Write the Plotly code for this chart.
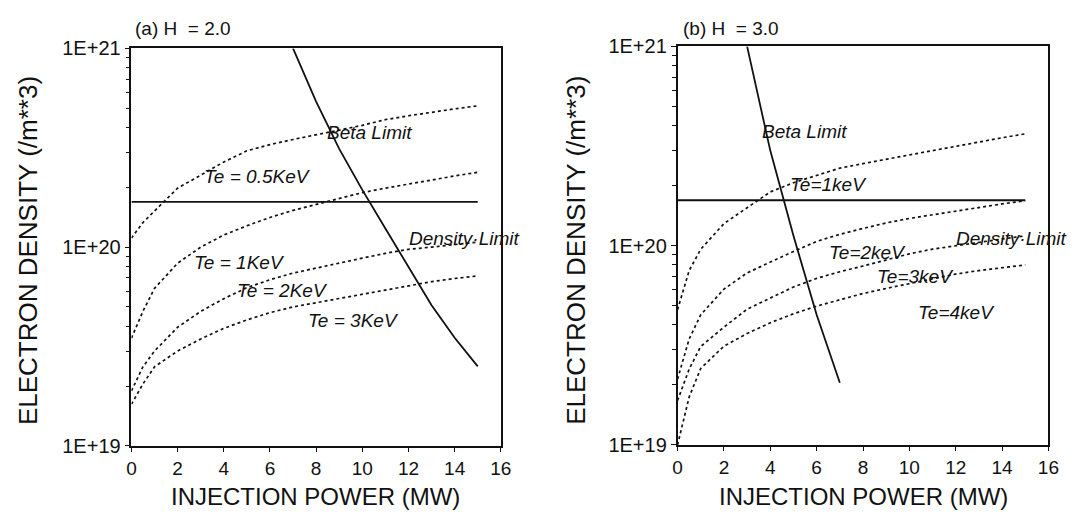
import plotly.graph_objects as go
import math

# ---------------- data ----------------
power = [0, 0.5, 1, 2, 3, 4, 5, 6, 7, 8, 9, 10, 11, 12, 13, 14, 15]

# (a) H = 2.0
a_te05 = [1.11e20, 1.33e20, 1.52e20, 1.98e20, 2.30e20, 2.68e20, 3.05e20, 3.28e20, 3.48e20,
          3.66e20, 3.88e20, 4.10e20, 4.38e20, 4.58e20, 4.78e20, 4.96e20, 5.14e20]
a_te1 = [3.48e19, 4.76e19, 6.2e19, 8.3e19, 1.0e20, 1.15e20, 1.28e20, 1.41e20, 1.53e20,
         1.64e20, 1.75e20, 1.88e20, 1.98e20, 2.08e20, 2.18e20, 2.28e20, 2.38e20]
a_te2 = [1.89e19, 2.5e19, 3.0e19, 3.95e19, 4.75e19, 5.5e19, 6.25e19, 6.85e19, 7.4e19,
         7.85e19, 8.35e19, 8.8e19, 9.3e19, 9.75e19, 1.0e20, 1.03e20, 1.06e20]
a_te3 = [1.62e19, 2.05e19, 2.5e19, 3.0e19, 3.45e19, 3.9e19, 4.3e19, 4.68e19, 5.0e19,
         5.25e19, 5.5e19, 5.8e19, 6.1e19, 6.4e19, 6.7e19, 6.95e19, 7.16e19]
a_beta_x = [7, 8, 9, 10, 11, 12, 13, 14, 15]
a_beta = [1.0e21, 5.4e20, 3.12e20, 1.94e20, 1.24e20, 7.9e19, 5.1e19, 3.5e19, 2.51e19]

# (b) H = 3.0
b_te1 = [4.77e19, 7.5e19, 9.6e19, 1.29e20, 1.55e20, 1.86e20, 2.07e20, 2.26e20, 2.45e20,
         2.58e20, 2.72e20, 2.85e20, 3.0e20, 3.15e20, 3.32e20, 3.48e20, 3.64e20]
b_te2 = [2.14e19, 3.4e19, 4.5e19, 6.05e19, 7.3e19, 8.3e19, 9.35e19, 1.05e20, 1.14e20,
         1.22e20, 1.3e20, 1.37e20, 1.43e20, 1.5e20, 1.56e20, 1.62e20, 1.68e20]
b_te3 = [1.67e19, 2.4e19, 3.12e19, 3.9e19, 4.8e19, 5.45e19, 6.2e19, 6.85e19, 7.4e19,
         7.9e19, 8.5e19, 9.1e19, 9.6e19, 1.0e20, 1.04e20, 1.08e20, 1.12e20]
b_te4 = [1.0e19, 1.74e19, 2.42e19, 3.13e19, 3.62e19, 4.1e19, 4.55e19, 4.97e19, 5.35e19,
         5.75e19, 6.1e19, 6.45e19, 6.85e19, 7.2e19, 7.5e19, 7.75e19, 8.0e19]
b_beta_x = [3, 4, 5, 6, 7]
b_beta = [1.0e21, 3.0e20, 1.12e20, 4.5e19, 2.05e19]

density_x = [0, 15]
density_limit = [1.69e20, 1.69e20]

x_ticks = [0, 2, 4, 6, 8, 10, 12, 14, 16]
y_ticks = [1e19, 1e20, 1e21]
y_tick_text = ["1E+19", "1E+20", "1E+21"]
y_minor = [m * 1e19 for m in range(2, 10)] + [m * 1e20 for m in range(2, 10)]

# labels: (text, x [MW], density)
a_labels = [("Beta Limit", 8.39, 3.77e20), ("Te = 0.5KeV", 3.06, 2.26e20),
            ("Density·Limit", 11.93, 1.11e20), ("Te = 1KeV", 2.63, 8.4e19),
            ("Te = 2KeV", 4.47, 6.04e19), ("Te = 3KeV", 7.54, 4.28e19)]
b_labels = [("Beta Limit", 3.55, 3.73e20), ("Te=1keV", 4.77, 2.03e20),
            ("Density·Limit", 11.91, 1.09e20), ("Te=2keV", 6.45, 9.25e19),
            ("Te=3keV", 8.51, 7.0e19), ("Te=4keV", 10.3, 4.6e19)]

# ---------------- figure ----------------
FONT = "Arial, 'Liberation Sans', Helvetica, sans-serif"
INK = "#111111"
fig = go.Figure()

def dotted(x, y, xa, ya):
    fig.add_trace(go.Scatter(x=x, y=y, mode="lines", xaxis=xa, yaxis=ya,
                             line=dict(color=INK, width=1.7, dash="dot"),
                             showlegend=False, hoverinfo="skip"))

def solid(x, y, xa, ya):
    fig.add_trace(go.Scatter(x=x, y=y, mode="lines", xaxis=xa, yaxis=ya,
                             line=dict(color=INK, width=1.8),
                             showlegend=False, hoverinfo="skip"))

for s in (a_te05, a_te1, a_te2, a_te3):
    dotted(power, s, "x", "y")
solid(a_beta_x, a_beta, "x", "y")
solid(density_x, density_limit, "x", "y")

for s in (b_te1, b_te2, b_te3, b_te4):
    dotted(power, s, "x2", "y2")
solid(b_beta_x, b_beta, "x2", "y2")
solid(density_x, density_limit, "x2", "y2")

xax = dict(range=[0, 16], tickvals=x_ticks, ticks="outside", ticklen=4, tickwidth=1.3,
           tickcolor=INK, showline=True, linecolor=INK, linewidth=1.6, mirror=True,
           showgrid=False, zeroline=False, ticklabelstandoff=1,
           tickfont=dict(family=FONT, size=19, color=INK))
yax = dict(type="log", range=[19, 21], tickvals=y_ticks, ticktext=y_tick_text,
           ticks="outside", ticklen=5, tickwidth=1.3, tickcolor=INK,
           minor=dict(tickmode="array", tickvals=y_minor, ticks="outside", ticklen=4,
                      tickwidth=1.2, tickcolor=INK, showgrid=False),
           showline=True, linecolor=INK, linewidth=1.6, mirror=True,
           showgrid=False, zeroline=False,
           tickfont=dict(family=FONT, size=20, color=INK))

fig.update_layout(
    width=1075, height=521,
    margin=dict(l=0, r=0, t=0, b=0),
    paper_bgcolor="white", plot_bgcolor="white",
    xaxis=dict(xax, domain=[0.1194, 0.4682], anchor="y"),
    yaxis=dict(yax, domain=[0.1286, 0.9251], anchor="x"),
    xaxis2=dict(xax, domain=[0.6351, 0.9853], anchor="y2"),
    yaxis2=dict(yax, domain=[0.1305, 0.929], anchor="x2"),
)

ann = []
for labels, xr, yr in ((a_labels, "x", "y"), (b_labels, "x2", "y2")):
    for t, xv, yv in labels:
        ann.append(dict(text="<i>" + t + "</i>", x=xv, y=math.log10(yv), xref=xr, yref=yr,
                        xanchor="left", yanchor="middle", showarrow=False,
                        font=dict(family=FONT, size=19, color=INK)))

ann += [
    dict(text="(a) H  = 2.0", x=130 / 1075, y=1 - 18 / 521, xref="paper", yref="paper",
         xanchor="left", yanchor="middle", showarrow=False,
         font=dict(family=FONT, size=19, color=INK)),
    dict(text="(b) H  = 3.0", x=686 / 1075, y=1 - 18 / 521, xref="paper", yref="paper",
         xanchor="left", yanchor="middle", showarrow=False,
         font=dict(family=FONT, size=19, color=INK)),
]
for cx in (24, 580):
    ann.append(dict(text="ELECTRON DENSITY (/m**3)", x=cx / 1075, y=1 - 250 / 521,
                    xref="paper", yref="paper", xanchor="center", yanchor="middle",
                    textangle=-90, showarrow=False,
                    font=dict(family=FONT, size=26, color=INK)))
for cx in (315, 871):
    ann.append(dict(text="INJECTION POWER (MW)", x=cx / 1075, y=1 - 507 / 521,
                    xref="paper", yref="paper", xanchor="center", yanchor="middle",
                    showarrow=False, font=dict(family=FONT, size=24, color=INK)))
fig.update_layout(annotations=ann)

fig.write_html("out.html")
